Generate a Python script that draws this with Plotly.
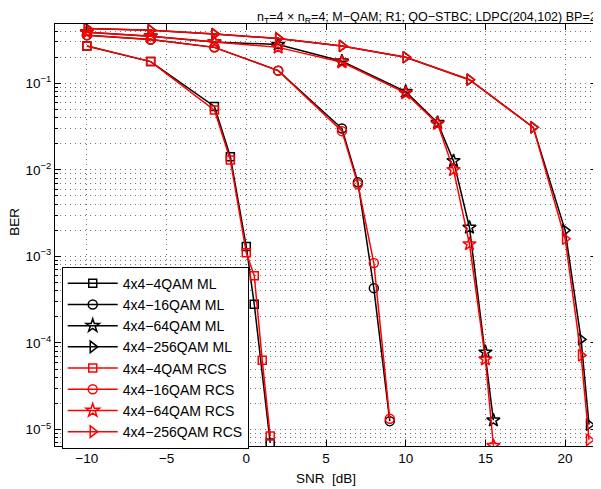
import plotly.graph_objects as go

# ---- data ----
x_4qam_ml = [-10, -6, -2, -1, 0, 0.5, 1.5]
ber_4qam_ml = [0.27, 0.178, 0.054, 0.0142, 1.3e-3, 2.8e-4, 7.0e-6]
x_4qam_rcs = [-10, -6, -2, -1, 0, 0.5, 1, 1.5]
ber_4qam_rcs = [0.27, 0.178, 0.049, 0.013, 1.1e-3, 6.0e-4, 6.3e-5, 8.4e-6]

x_16qam = [-10, -6, -2, 2, 6, 7, 8, 9]
ber_16qam_ml = [0.36, 0.32, 0.26, 0.14, 0.030, 0.0072, 4.3e-4, 1.25e-5]
ber_16qam_rcs = [0.36, 0.32, 0.26, 0.14, 0.028, 0.0068, 8.4e-4, 1.33e-5]

x_64qam = [-10, -6, -2, 2, 6, 10, 12, 13, 14, 15, 15.5]
ber_64qam_ml = [0.39, 0.35, 0.30, 0.28, 0.18, 0.080, 0.035, 0.0127, 2.16e-3, 7.8e-5, 1.28e-5]
ber_64qam_rcs = [0.39, 0.35, 0.30, 0.26, 0.175, 0.077, 0.034, 0.010, 1.39e-3, 6.5e-5, 6.5e-6]

x_256qam = [-10, -6, -2, 2, 6, 10, 14, 18, 20, 21, 21.5]
ber_256qam_ml = [0.43, 0.41, 0.37, 0.33, 0.27, 0.20, 0.11, 0.031, 2.0e-3, 1.1e-4, 1.14e-5]
ber_256qam_rcs = [0.43, 0.41, 0.37, 0.33, 0.27, 0.20, 0.11, 0.031, 1.6e-3, 7.2e-5, 7.6e-6]

x_ticks = [-10, -5, 0, 5, 10, 15, 20]
y_ticks = [1e-5, 1e-4, 1e-3, 1e-2, 1e-1]
y_ticktext = ["10<sup>\u22125</sup>", "10<sup>\u22124</sup>", "10<sup>\u22123</sup>",
              "10<sup>\u22122</sup>", "10<sup>\u22121</sup>"]
x_ticktext = ["\u221210", "\u22125", "0", "5", "10", "15", "20"]

series = [
    ("4x4\u22124QAM ML", x_4qam_ml, ber_4qam_ml, "square-open", "black", 8),
    ("4x4\u221216QAM ML", x_16qam, ber_16qam_ml, "circle-open", "black", 9),
    ("4x4\u221264QAM ML", x_64qam, ber_64qam_ml, "star-open", "black", 10),
    ("4x4\u2212256QAM ML", x_256qam, ber_256qam_ml, "triangle-right-open", "black", 10),
    ("4x4\u22124QAM RCS", x_4qam_rcs, ber_4qam_rcs, "square-open", "red", 8),
    ("4x4\u221216QAM RCS", x_16qam, ber_16qam_rcs, "circle-open", "red", 9),
    ("4x4\u221264QAM RCS", x_64qam, ber_64qam_rcs, "star-open", "red", 10),
    ("4x4\u2212256QAM RCS", x_256qam, ber_256qam_rcs, "triangle-right-open", "red", 10),
]

FONT = "Liberation Sans, Arial, sans-serif"

fig = go.Figure()
for name, xs, ys, sym, col, sz in series:
    fig.add_trace(go.Scatter(
        x=xs, y=ys, name=name, mode="lines+markers",
        line=dict(color=col, width=1.5),
        marker=dict(symbol=sym, size=sz, color=col, line=dict(color=col, width=1.5)),
    ))

minor_y = [k * 10.0 ** e for e in range(-6, 0) for k in range(2, 10)]
grid_col = "rgba(0,0,0,0.55)"

# page body has an 8px margin; figure is sized so that it ends at the window edge
fig.update_layout(
    width=593, height=481,
    margin=dict(l=47, r=4, t=16, b=43),
    paper_bgcolor="white", plot_bgcolor="white",
    font=dict(family=FONT, size=13, color="black"),
    showlegend=True,
    legend=dict(
        x=0.0124, y=0.425, xanchor="left", yanchor="top",
        bgcolor="white", bordercolor="black", borderwidth=1,
        font=dict(family=FONT, size=14, color="black"),
        itemwidth=50, tracegroupgap=0,
    ),
    xaxis=dict(
        range=[-12, 22], tickvals=x_ticks, ticktext=x_ticktext,
        showline=True, linecolor="black", linewidth=1, mirror="ticks",
        ticks="inside", ticklen=6, tickcolor="black",
        showgrid=True, gridcolor=grid_col, griddash="1px,4px", gridwidth=1,
        zeroline=False, tickfont=dict(size=13.5),
    ),
    yaxis=dict(
        type="log", range=[-5.19, -0.315], tickvals=y_ticks, ticktext=y_ticktext,
        showline=True, linecolor="black", linewidth=1, mirror="ticks",
        ticks="inside", ticklen=6, tickcolor="black",
        showgrid=True, gridcolor=grid_col, griddash="1px,4px", gridwidth=1,
        zeroline=False, tickfont=dict(size=13.5),
        minor=dict(tickvals=minor_y, ticks="inside", ticklen=3, tickcolor="black",
                   showgrid=True, gridcolor=grid_col, griddash="1px,4px", gridwidth=1),
    ),
    annotations=[
        dict(text="SNR  [dB]", xref="paper", yref="paper", x=0.5, y=-0.078,
             xanchor="center", yanchor="middle", showarrow=False,
             font=dict(family=FONT, size=13.5)),
        dict(text="BER", xref="paper", yref="paper", x=-0.074, y=0.531,
             xanchor="center", yanchor="middle", showarrow=False, textangle=-90,
             font=dict(family=FONT, size=13.5)),
        dict(text="n<sub>T</sub>=4 \u00d7 n<sub>R</sub>=4; M\u2212QAM; R1; QO\u2212STBC; LDPC(204,102) BP=20",
             xref="paper", yref="paper", x=0.369, y=1.015,
             xanchor="left", yanchor="middle", showarrow=False,
             font=dict(family=FONT, size=12.5)),
    ],
)

fig.write_html("out.html")
